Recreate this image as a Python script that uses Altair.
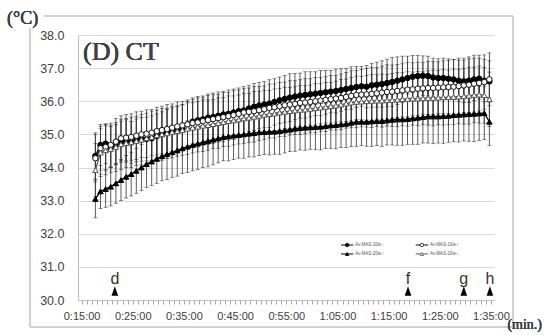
import altair as alt
import pandas as pd

# ---------------- data ----------------
series_names = ["Av.MAS-10w♂", "Av.MAS-10w♀", "Av.MAS-20w♂", "Av.MAS-20w♀"]

minutes = [17.7, 18.7, 19.7, 20.7, 21.7, 22.7, 23.7, 24.7, 25.7, 26.7,
           27.7, 28.7, 29.7, 30.7, 31.7, 32.7, 33.7, 34.7, 35.7, 36.7,
           37.7, 38.7, 39.7, 40.7, 41.7, 42.7, 43.7, 44.7, 45.7, 46.7,
           47.7, 48.7, 49.7, 50.7, 51.7, 52.7, 53.7, 54.7, 55.7, 56.7,
           57.7, 58.7, 59.7, 60.7, 61.7, 62.7, 63.7, 64.7, 65.7, 66.7,
           67.7, 68.7, 69.7, 70.7, 71.7, 72.7, 73.7, 74.7, 75.7, 76.7,
           77.7, 78.7, 79.7, 80.7, 81.7, 82.7, 83.7, 84.7, 85.7, 86.7,
           87.7, 88.7, 89.7, 90.7, 91.7, 92.7, 93.7, 94.7]

m10_male = [34.35, 34.68, 34.72, 34.62, 34.70, 34.78, 34.80, 34.76, 34.82, 34.85,
            34.86, 34.88, 34.95, 35.00, 35.05, 35.10, 35.14, 35.20, 35.30, 35.38,
            35.42, 35.45, 35.50, 35.52, 35.56, 35.60, 35.62, 35.66, 35.70, 35.72,
            35.78, 35.83, 35.87, 35.90, 35.93, 35.98, 36.03, 36.07, 36.11, 36.14,
            36.17, 36.19, 36.21, 36.23, 36.25, 36.27, 36.29, 36.31, 36.34, 36.37,
            36.40, 36.43, 36.45, 36.44, 36.48, 36.50, 36.52, 36.55, 36.58, 36.62,
            36.66, 36.70, 36.74, 36.76, 36.77, 36.76, 36.72, 36.70, 36.70, 36.68,
            36.66, 36.62, 36.60, 36.62, 36.66, 36.68, 36.62, 36.60]
m10_female = [34.28, 34.58, 34.62, 34.68, 34.78, 34.88, 34.90, 34.92, 34.96, 35.00,
              35.02, 35.05, 35.10, 35.13, 35.16, 35.20, 35.24, 35.27, 35.30, 35.34,
              35.36, 35.40, 35.43, 35.46, 35.49, 35.52, 35.55, 35.58, 35.62, 35.66,
              35.68, 35.70, 35.73, 35.76, 35.80, 35.82, 35.85, 35.88, 35.90, 35.92,
              35.95, 35.96, 35.98, 36.00, 36.02, 36.04, 36.06, 36.08, 36.10, 36.13,
              36.16, 36.19, 36.20, 36.21, 36.22, 36.24, 36.26, 36.28, 36.29, 36.31,
              36.33, 36.35, 36.36, 36.38, 36.39, 36.40, 36.40, 36.41, 36.42, 36.43,
              36.44, 36.46, 36.48, 36.50, 36.53, 36.55, 36.58, 36.66]
m20_male = [33.05, 33.28, 33.35, 33.42, 33.52, 33.62, 33.72, 33.80, 33.90, 34.00,
            34.10, 34.18, 34.26, 34.34, 34.40, 34.46, 34.52, 34.58, 34.63, 34.68,
            34.72, 34.76, 34.80, 34.84, 34.88, 34.92, 34.94, 34.96, 34.98, 35.00,
            35.02, 35.04, 35.06, 35.07, 35.08, 35.08, 35.10, 35.12, 35.14, 35.17,
            35.19, 35.20, 35.21, 35.22, 35.23, 35.25, 35.27, 35.28, 35.30, 35.32,
            35.35, 35.38, 35.38, 35.38, 35.39, 35.40, 35.40, 35.42, 35.44, 35.45,
            35.45, 35.46, 35.48, 35.50, 35.52, 35.54, 35.54, 35.54, 35.55, 35.56,
            35.58, 35.59, 35.60, 35.61, 35.62, 35.63, 35.64, 35.38]
m20_female = [33.92, 34.45, 34.52, 34.56, 34.62, 34.70, 34.74, 34.76, 34.80, 34.84,
              34.88, 34.92, 34.97, 35.00, 35.03, 35.07, 35.10, 35.13, 35.17, 35.20,
              35.23, 35.26, 35.28, 35.31, 35.34, 35.37, 35.40, 35.42, 35.45, 35.48,
              35.50, 35.53, 35.56, 35.59, 35.61, 35.63, 35.66, 35.68, 35.70, 35.72,
              35.74, 35.75, 35.77, 35.79, 35.81, 35.83, 35.85, 35.87, 35.90, 35.93,
              35.96, 35.98, 35.99, 36.00, 36.01, 36.02, 36.02, 36.03, 36.04, 36.05,
              36.06, 36.07, 36.08, 36.08, 36.09, 36.10, 36.10, 36.11, 36.12, 36.12,
              36.13, 36.14, 36.15, 36.17, 36.19, 36.20, 36.18, 36.06]

sd10_male = [0.70, 0.62, 0.60, 0.62, 0.60, 0.62, 0.64, 0.63, 0.65, 0.66,
             0.66, 0.68, 0.67, 0.68, 0.70, 0.70, 0.71, 0.70, 0.70, 0.72,
             0.72, 0.71, 0.72, 0.73, 0.72, 0.70, 0.72, 0.71, 0.70, 0.72,
             0.70, 0.71, 0.70, 0.70, 0.72, 0.70, 0.70, 0.71, 0.72, 0.70,
             0.68, 0.70, 0.68, 0.66, 0.68, 0.66, 0.64, 0.66, 0.64, 0.62,
             0.64, 0.62, 0.60, 0.64, 0.66, 0.68, 0.70, 0.72, 0.74, 0.72,
             0.70, 0.66, 0.64, 0.62, 0.60, 0.60, 0.58, 0.58, 0.60, 0.60,
             0.60, 0.62, 0.64, 0.66, 0.64, 0.62, 0.64, 0.62]
sd10_female = [0.72, 0.66, 0.68, 0.66, 0.70, 0.68, 0.70, 0.70, 0.72, 0.70,
               0.72, 0.70, 0.72, 0.72, 0.74, 0.72, 0.74, 0.72, 0.74, 0.72,
               0.74, 0.72, 0.74, 0.74, 0.72, 0.74, 0.72, 0.74, 0.72, 0.72,
               0.72, 0.74, 0.72, 0.70, 0.72, 0.70, 0.72, 0.70, 0.72, 0.70,
               0.70, 0.72, 0.70, 0.72, 0.70, 0.70, 0.72, 0.70, 0.72, 0.74,
               0.76, 0.74, 0.76, 0.78, 0.80, 0.78, 0.80, 0.82, 0.80, 0.80,
               0.80, 0.82, 0.80, 0.80, 0.78, 0.80, 0.80, 0.78, 0.80, 0.80,
               0.82, 0.84, 0.82, 0.84, 0.86, 0.84, 0.82, 0.80]
sd20_male = [0.57, 0.52, 0.55, 0.58, 0.60, 0.62, 0.64, 0.66, 0.68, 0.70,
             0.70, 0.72, 0.74, 0.74, 0.76, 0.76, 0.78, 0.76, 0.78, 0.78,
             0.78, 0.76, 0.78, 0.76, 0.74, 0.72, 0.74, 0.72, 0.70, 0.72,
             0.70, 0.72, 0.70, 0.68, 0.70, 0.68, 0.70, 0.68, 0.66, 0.68,
             0.66, 0.68, 0.66, 0.68, 0.70, 0.68, 0.70, 0.72, 0.70, 0.72,
             0.72, 0.74, 0.72, 0.74, 0.76, 0.74, 0.76, 0.74, 0.76, 0.78,
             0.78, 0.76, 0.78, 0.80, 0.78, 0.80, 0.82, 0.80, 0.82, 0.80,
             0.80, 0.82, 0.80, 0.82, 0.84, 0.82, 0.80, 0.72]
sd20_female = [0.80, 0.72, 0.74, 0.72, 0.74, 0.76, 0.74, 0.76, 0.74, 0.76,
               0.76, 0.78, 0.76, 0.78, 0.76, 0.78, 0.76, 0.76, 0.78, 0.76,
               0.76, 0.78, 0.76, 0.74, 0.76, 0.74, 0.76, 0.74, 0.74, 0.76,
               0.74, 0.76, 0.74, 0.74, 0.72, 0.74, 0.72, 0.74, 0.72, 0.72,
               0.74, 0.72, 0.72, 0.74, 0.72, 0.74, 0.72, 0.74, 0.76, 0.74,
               0.76, 0.78, 0.76, 0.78, 0.80, 0.78, 0.80, 0.78, 0.80, 0.82,
               0.80, 0.82, 0.80, 0.82, 0.80, 0.82, 0.84, 0.82, 0.84, 0.82,
               0.84, 0.82, 0.84, 0.86, 0.84, 0.86, 0.84, 0.82]

event_labels = ["d", "f", "g", "h"]
event_minutes = [21.5, 78.8, 89.7, 94.8]

major_ticks = [15, 25, 35, 45, 55, 65, 75, 85, 95]
major_labels = ["0:15:00", "0:25:00", "0:35:00", "0:45:00", "0:55:00",
                "1:05:00", "1:15:00", "1:25:00", "1:35:00"]
minor_ticks = list(range(15, 96))
y_ticks = [30, 31, 32, 33, 34, 35, 36, 37, 38]

# legend layout (data coordinates)
legend_x = [66.9, 81.5, 66.9, 81.5]
legend_y = [31.66, 31.66, 31.39, 31.39]

# ---------------- tables ----------------
means = [m10_male, m10_female, m20_male, m20_female]
sds = [sd10_male, sd10_female, sd20_male, sd20_female]
rows = []
for name, mv, sv in zip(series_names, means, sds):
    assert len(mv) == len(minutes) and len(sv) == len(minutes)
    for t, m, s in zip(minutes, mv, sv):
        rows.append({"series": name, "minute": t, "temp": m,
                     "lo": round(m - s, 3), "hi": round(m + s, 3)})
df = pd.DataFrame(rows)

ev = pd.DataFrame({"label": event_labels, "minute": event_minutes})
leg = pd.DataFrame({"series": series_names, "lx": legend_x, "ly": legend_y})

# ---------------- scales & styles ----------------
W, H = 416, 265
xscale = alt.Scale(domain=[14.3, 95.6], nice=False, zero=False)
yscale = alt.Scale(domain=[30, 38], nice=False, zero=False)

shape_scale = alt.Scale(domain=series_names,
                        range=["circle", "circle", "triangle-up", "triangle-up"])
fill_scale = alt.Scale(domain=series_names,
                       range=["#000000", "#ffffff", "#000000", "#ffffff"])
stroke_scale = alt.Scale(domain=series_names,
                         range=["#000000", "#111111", "#000000", "#555555"])

lab_expr = ("indexof(%s, datum.value) >= 0 ? %s[indexof(%s, datum.value)] : ''"
            % (str(major_ticks), str(major_labels), str(major_ticks)))

xaxis = alt.Axis(values=minor_ticks, labelExpr=lab_expr, title=None, grid=False,
                 labelAngle=0, labelOverlap=False, labelFlush=False,
                 tickSize=4, tickColor="#a6a6a6", domainColor="#bfbfbf",
                 labelFontSize=11, labelColor="#404040", labelFont="Liberation Sans",
                 labelPadding=6)
yaxis = alt.Axis(values=y_ticks, format=".1f", title=None, grid=True,
                 labelOverlap=False,
                 gridColor="#d9d9d9", domainColor="#bfbfbf", ticks=False,
                 labelPadding=14, labelFontSize=12.5, labelColor="#404040",
                 labelFont="Liberation Sans")

X = alt.X("minute:Q", scale=xscale, axis=xaxis)
Y = alt.Y("temp:Q", scale=yscale, axis=yaxis)
base = alt.Chart(df)

# border of chart area
border = alt.Chart(ev).mark_rect(fillOpacity=0, stroke="#d0d0d0", strokeWidth=1).encode(
    x=alt.value(-48), x2=alt.value(435), y=alt.value(-19), y2=alt.value(292))
ctitle_bg = alt.Chart(ev).mark_rect(fill="white").encode(
    x=alt.value(-73), x2=alt.value(-34), y=alt.value(-28), y2=alt.value(-7))
cunit = alt.Chart(ev).mark_text(font="Liberation Serif", fontSize=18, fontWeight="normal",
                                align="left", baseline="alphabetic", color="#404040").encode(
    x=alt.value(-71), y=alt.value(-11), text=alt.value("(°C)"))
minunit = alt.Chart(ev).mark_text(font="Liberation Serif", fontSize=14, fontWeight="normal",
                                  align="right", baseline="middle", color="#404040").encode(
    x=alt.value(464), y=alt.value(290), text=alt.value("(min.)"))
title = alt.Chart(ev).mark_text(font="Liberation Serif", fontSize=26, fontWeight="normal",
                                align="left", baseline="alphabetic", color="#404040").encode(
    x=alt.value(5), y=alt.value(25), text=alt.value("(D) CT"))

errbars = base.mark_rule(color="#333333", strokeWidth=0.8).encode(
    x=X, y=alt.Y("lo:Q", scale=yscale, axis=yaxis), y2="hi:Q", detail="series:N")
cap_lo = base.mark_tick(orient="horizontal", size=4, thickness=0.8, color="#333333").encode(
    x=X, y=alt.Y("lo:Q", scale=yscale, axis=yaxis))
cap_hi = base.mark_tick(orient="horizontal", size=4, thickness=0.8, color="#333333").encode(
    x=X, y=alt.Y("hi:Q", scale=yscale, axis=yaxis))

lines = base.mark_line(strokeWidth=1.3).encode(
    x=X, y=Y,
    stroke=alt.Stroke("series:N", scale=stroke_scale, legend=None),
    detail="series:N")
points = base.mark_point(size=30, strokeWidth=1, opacity=1).encode(
    x=X, y=Y,
    shape=alt.Shape("series:N", scale=shape_scale, legend=None),
    fill=alt.Fill("series:N", scale=fill_scale, legend=None),
    stroke=alt.Stroke("series:N", scale=stroke_scale, legend=None))

tri_path = "M-0.7,1L0,-1L0.7,1Z"
ev_marks = alt.Chart(ev).mark_point(shape=tri_path, size=90, filled=True,
                                    color="black", opacity=1).encode(
    x=X, y=alt.datum(30.27, scale=yscale, axis=yaxis))
ev_text = alt.Chart(ev).mark_text(font="Liberation Sans", fontSize=16, color="#333333",
                                  baseline="alphabetic").encode(
    x=X, y=alt.datum(30.48, scale=yscale, axis=yaxis), text="label:N")

leg_line = alt.Chart(leg).transform_calculate(
    x1="datum.lx - 1.2", x2="datum.lx + 1.2").mark_rule(
    strokeWidth=1).encode(
    x=alt.X("x1:Q", scale=xscale, axis=xaxis), x2="x2:Q",
    y=alt.Y("ly:Q", scale=yscale, axis=yaxis),
    stroke=alt.Stroke("series:N", scale=stroke_scale, legend=None))
leg_pt = alt.Chart(leg).mark_point(size=12, strokeWidth=0.8, opacity=1).encode(
    x=alt.X("lx:Q", scale=xscale, axis=xaxis),
    y=alt.Y("ly:Q", scale=yscale, axis=yaxis),
    shape=alt.Shape("series:N", scale=shape_scale, legend=None),
    fill=alt.Fill("series:N", scale=fill_scale, legend=None),
    stroke=alt.Stroke("series:N", scale=stroke_scale, legend=None))
leg_txt = alt.Chart(leg).transform_calculate(tx="datum.lx + 1.6").mark_text(
    fontSize=4.5, align="left", baseline="middle", color="#555555",
    font="Liberation Sans").encode(
    x=alt.X("tx:Q", scale=xscale, axis=xaxis),
    y=alt.Y("ly:Q", scale=yscale, axis=yaxis), text="series:N")

chart = alt.layer(
    border, ctitle_bg, errbars, cap_lo, cap_hi, lines, points,
    ev_marks, ev_text, leg_line, leg_pt, leg_txt, title, cunit, minunit
).properties(
    width=W, height=H,
    padding={"left": 78, "top": 35, "right": 50, "bottom": 35},
    autosize=alt.AutoSizeParams(type="none"),
    background="white",
).configure_view(stroke=None).configure_axis(labelOverlap=False)

chart.save("out.html", embed_options={"renderer": "svg", "actions": False})
